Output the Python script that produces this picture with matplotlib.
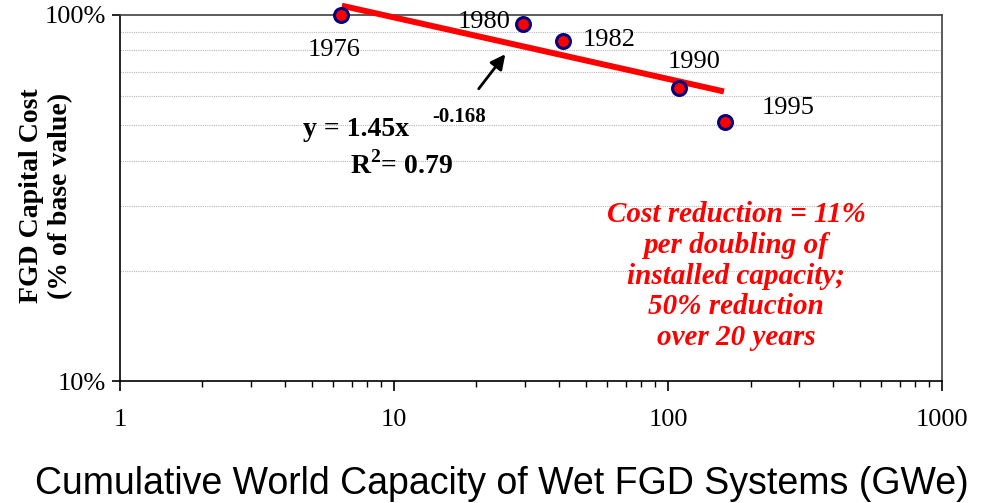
import matplotlib
matplotlib.use("Agg")
import matplotlib.pyplot as plt
import matplotlib.ticker as ticker
import numpy as np

# data
years = ["1976", "1980", "1982", "1990", "1995"]
capacity_gwe = [6.4, 29.6, 41.4, 109.7, 161.0]
capital_cost = [1.00, 0.943, 0.848, 0.631, 0.509]

# power-law fit shown on the chart
fit_a = 1.45
fit_b = -0.168
fit_x_range = [6.45, 160.0]

serif = "Liberation Serif"
sans = "Liberation Sans"

plt.rcParams["mathtext.fontset"] = "custom"
plt.rcParams["mathtext.rm"] = "Liberation Serif"
plt.rcParams["mathtext.bf"] = "Liberation Serif:bold"

W, H = 982, 503


def fx_(px):
    return px / W


def fy_(py):
    return 1 - py / H


fig = plt.figure(figsize=(9.82, 5.03), dpi=100)
ax = fig.add_axes([0.1222, 0.2425, 0.8371, 0.7277])

ax.set_xscale("log")
ax.set_yscale("log")
ax.set_xlim(1, 1000)
ax.set_ylim(0.1, 1.0)

# trend line
fx = np.logspace(np.log10(fit_x_range[0]), np.log10(fit_x_range[1]), 50)
ax.plot(fx, fit_a * fx ** fit_b, color="#ff0000", lw=4.3, clip_on=False, zorder=3,
        solid_capstyle="butt")

# points
ax.plot(capacity_gwe, capital_cost, "o", ms=10, mfc="#ff0000", mec="#000080",
        mew=2.2, clip_on=False, zorder=4)

# year labels
offsets = [(-5, -25), (-28, 2), (33, 1), (11, 19), (46, 10)]
for yr, x, y, off in zip(years, capacity_gwe, capital_cost, offsets):
    ax.annotate(yr, xy=(x, y), xytext=off, textcoords="offset points",
                ha="center", va="center", fontsize=19, family=serif)

# arrow to the trend line
ax.annotate("", xy=(fx_(507), fy_(52)), xycoords="figure fraction",
            xytext=(fx_(477), fy_(91)), textcoords="figure fraction",
            arrowprops=dict(arrowstyle="-|>", color="black", lw=2, mutation_scale=22))

# equation
fig.text(fx_(303), fy_(130), "y = 1.45x", fontsize=20, family=serif,
         weight="bold", ha="left", va="center")
fig.text(fx_(432), fy_(117), "-0.168", fontsize=15, family=serif,
         weight="bold", ha="left", va="center")
fig.text(fx_(350), fy_(165), r"R$^\mathbf{2}$= 0.79", fontsize=20, family=serif,
         weight="bold", ha="left", va="center")

fig.text(fx_(736), fy_(276),
         "Cost reduction = 11%\nper doubling of\ninstalled capacity;\n50% reduction\nover 20 years",
         ha="center", va="center", color="#ff0000",
         fontsize=21, family=serif, weight="bold", style="italic", linespacing=1.18)

# axes styling
ax.xaxis.set_major_locator(ticker.LogLocator(base=10, numticks=10))
ax.xaxis.set_minor_locator(ticker.LogLocator(base=10, subs=np.arange(2, 10), numticks=10))
ax.xaxis.set_major_formatter(ticker.FuncFormatter(lambda v, p: "%g" % v))
ax.xaxis.set_minor_formatter(ticker.NullFormatter())

ax.yaxis.set_major_locator(ticker.FixedLocator([0.1, 1.0]))
ax.yaxis.set_major_formatter(ticker.FuncFormatter(lambda v, p: "%d%%" % round(v * 100)))
ax.yaxis.set_minor_locator(ticker.FixedLocator([0.2, 0.3, 0.4, 0.5, 0.6, 0.7, 0.8, 0.9]))
ax.yaxis.set_minor_formatter(ticker.NullFormatter())
ax.yaxis.grid(True, which="minor", color="#b8b8b8", lw=0.8, ls=(0, (1, 1)))
ax.tick_params(axis="y", which="minor", length=0)
ax.tick_params(axis="y", which="major", direction="out", length=6, width=1.2, pad=4,
               labelsize=19)
ax.tick_params(axis="x", which="major", direction="out", length=7, width=1.2, pad=13,
               labelsize=19)
ax.tick_params(axis="x", which="minor", direction="out", length=4, width=1)
for lab in ax.get_xticklabels() + ax.get_yticklabels():
    lab.set_family(serif)

for s in ["left", "bottom"]:
    ax.spines[s].set_color("black")
    ax.spines[s].set_linewidth(1.2)
for s in ["top", "right"]:
    ax.spines[s].set_color("#404040")
    ax.spines[s].set_linewidth(1.2)

fig.text(fx_(502), fy_(484), "Cumulative World Capacity of Wet FGD Systems (GWe)",
         fontsize=27, family=sans, ha="center", va="center")
fig.text(fx_(46), fy_(196), "FGD Capital Cost\n(% of base value)", fontsize=20,
         family=serif, weight="bold", rotation=90, ha="center", va="center",
         linespacing=1.22, multialignment="center")

fig.savefig("out.png", dpi=100)
